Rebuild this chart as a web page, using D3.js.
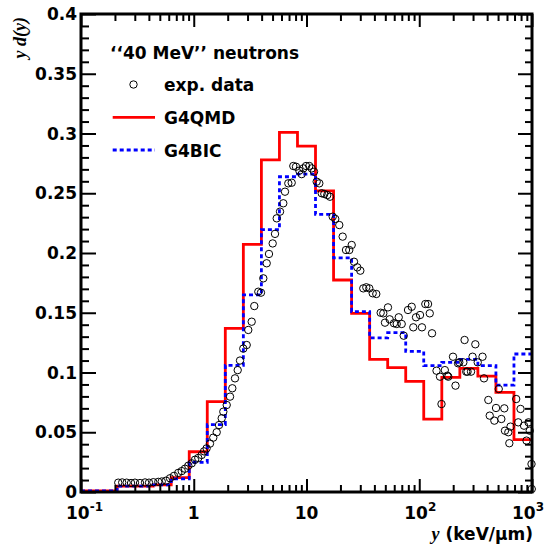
<!DOCTYPE html>
<html>
<head>
<meta charset="utf-8">
<script src="https://cdn.jsdelivr.net/npm/d3@7"></script>
<style>
  html, body { margin: 0; padding: 0; background: #fff; }
  svg { display: block; }
  .lbl { font-family: "DejaVu Sans", sans-serif; font-weight: bold; fill: #000; }
</style>
</head>
<body>
<svg id="chart" width="546" height="548"></svg>
<script>
// Histogram bin edges in y (keV/um), 25 logarithmic bins from 0.1 to 1000
const binEdges = [0.1, 0.1445, 0.2089, 0.302, 0.4365, 0.631, 0.912, 1.318, 1.905, 2.754,
  3.981, 5.754, 8.318, 12.02, 17.38, 25.12, 36.31, 52.48, 75.86, 109.6,
  158.5, 229.1, 331.1, 478.6, 691.8, 1000];

// G4QMD y d(y) per bin
const g4qmd = [0.001, 0.001, 0.005, 0.005, 0.006, 0.012, 0.0337, 0.0756, 0.137, 0.2073,
  0.278, 0.301, 0.2895, 0.252, 0.1774, 0.1495, 0.111, 0.104, 0.0926, 0.061,
  0.096, 0.1035, 0.097, 0.0834, 0.0438];

// G4BIC y d(y) per bin
const g4bic = [0.001, 0.001, 0.005, 0.005, 0.006, 0.011, 0.0248, 0.0563, 0.106, 0.165,
  0.2195, 0.2638, 0.266, 0.2324, 0.196, 0.151, 0.129, 0.1333, 0.1177, 0.1057,
  0.1085, 0.111, 0.1057, 0.0895, 0.1155];

// Measured lineal energy y (keV/um)
const expY = [0.214, 0.232, 0.254, 0.278, 0.301, 0.334, 0.370, 0.401, 0.438, 0.485,
  0.520, 0.568, 0.616, 0.668, 0.729, 0.782, 0.836, 0.895, 0.959, 1.026,
  1.097, 1.175, 1.233, 1.300, 1.393, 1.490, 1.598, 1.675, 1.770, 1.829,
  1.960, 2.098, 2.198, 2.322, 2.454, 2.572, 2.750, 2.949, 3.046, 3.265,
  3.443, 3.738, 3.946, 4.138, 4.436, 4.648, 5.013, 5.256, 5.443, 5.823,
  6.226, 6.445, 6.897, 7.39, 7.64, 8.07, 8.64, 9.06, 9.37, 9.91,
  10.59, 11.12, 11.66, 12.31, 12.99, 13.64, 14.39, 15.29, 16.15, 17.07,
  17.99, 19.53, 20.93, 22.40, 23.96, 25.17, 26.39, 28.23, 30.01, 31.90,
  33.91, 36.05, 38.64, 41.59, 45.50, 47.98, 49.67, 52.79, 54.65, 59.70,
  63.09, 65.77, 69.87, 72.82, 79.47, 85.72, 88.54, 93.6, 101.6, 105.7,
  113.2, 119.7, 123.9, 129.8, 142.3, 152.8, 157.5, 168.6, 177.4, 181.0,
  199.2, 209.7, 220.8, 226.5, 246.1, 252.3, 261.0, 268.1, 287.9, 297.0,
  314.3, 330.1, 364.1, 375.2, 409.9, 421.8, 463.5, 479.8, 507.0, 534.6,
  568.0, 575.9, 616.5, 629.4, 644.6, 724.4, 755.1, 791.3, 849.5, 894.2,
  931.6, 954.9, 990, 995];

// Measured y d(y)
const expYdy = [0.0078, 0.0080, 0.0078, 0.0075, 0.0078, 0.0075, 0.0080, 0.0078, 0.0082, 0.0085,
  0.0088, 0.0095, 0.0115, 0.0135, 0.0160, 0.0175, 0.0195, 0.0220, 0.0240, 0.0270,
  0.0285, 0.0310, 0.0340, 0.0365, 0.0405, 0.0455, 0.0500, 0.0560, 0.0617, 0.0672,
  0.0728, 0.0798, 0.0868, 0.0951, 0.1020, 0.1100, 0.1200, 0.1230, 0.1356, 0.1425,
  0.1556, 0.1676, 0.1668, 0.1788, 0.1914, 0.1992, 0.2080, 0.2160, 0.2290, 0.2346,
  0.2416, 0.2513, 0.2583, 0.2588, 0.2728, 0.2722, 0.2689, 0.2660, 0.2708, 0.2728,
  0.2728, 0.2708, 0.2680, 0.2597, 0.2583, 0.2500, 0.2494, 0.2485, 0.2471, 0.2304,
  0.2285, 0.2234, 0.2137, 0.2025, 0.2025, 0.2067, 0.1927, 0.1880, 0.1852, 0.1704,
  0.1713, 0.1704, 0.1663, 0.1657, 0.1500, 0.1495, 0.1417, 0.1545, 0.1445, 0.1412,
  0.1406, 0.1462, 0.1406, 0.1308, 0.1523, 0.1550, 0.1378, 0.1462, 0.1481, 0.1378,
  0.1573, 0.1573, 0.1495, 0.1328, 0.1015, 0.0965, 0.0736, 0.1020, 0.0973, 0.0965,
  0.1132, 0.0890, 0.1077, 0.1085, 0.1085, 0.1272, 0.1007, 0.1007, 0.1007, 0.1132,
  0.1236, 0.1085, 0.1132, 0.0951, 0.0770, 0.0639, 0.0597, 0.0703, 0.0862, 0.0611,
  0.0700, 0.0513, 0.0500, 0.0408, 0.0547, 0.0778, 0.0583, 0.0695, 0.0555, 0.0430,
  0.0583, 0.0513, 0.0234, 0.0025];

// Axis ticks
const yMajorTicks = [0, 0.05, 0.1, 0.15, 0.2, 0.25, 0.3, 0.35, 0.4];
const yTickLabels = ["0", "0.05", "0.1", "0.15", "0.2", "0.25", "0.3", "0.35", "0.4"];
const xMajorTicks = [0.1, 1, 10, 100, 1000];
const xTickBase = ["10", "1", "10", "10", "10"];
const xTickExp = ["-1", "", "", "2", "3"];

const legendTitle = "\u2018\u201840 MeV\u2019\u2019 neutrons";
const seriesNames = ["exp. data", "G4QMD", "G4BIC"];

const W = 546;
const svg = d3.select("#chart");
const L = 81, R = 532, T = 14, B = 492;

const x = d3.scaleLog().domain([0.1, 1000]).range([L, R]);
const y = d3.scaleLinear().domain([0, 0.4]).range([B, T]);

// minor tick values
const yMinor = d3.range(0, 41).map(i => i / 100).filter(v => Math.abs(v * 20 - Math.round(v * 20)) > 1e-6);
const xMinor = [];
[0.1, 1, 10, 100].forEach(d => { for (let k = 2; k <= 9; k++) xMinor.push(d * k); });

// step path for a histogram
function stepPath(vals) {
  const p = d3.path();
  vals.forEach((v, i) => {
    const x0 = x(binEdges[i]), x1 = x(binEdges[i + 1]), yy = y(v);
    if (i === 0) p.moveTo(x0, yy); else p.lineTo(x0, yy);
    p.lineTo(x1, yy);
  });
  return p.toString();
}

const plot = svg.append("g");
plot.append("path").attr("d", stepPath(g4qmd))
  .attr("fill", "none").attr("stroke", "#ff0000").attr("stroke-width", 2.8);
plot.append("path").attr("d", stepPath(g4bic))
  .attr("fill", "none").attr("stroke", "#0000ff").attr("stroke-width", 2.8)
  .attr("stroke-dasharray", "4,3");

plot.selectAll("circle.exp").data(expY.map((v, i) => [v, expYdy[i]]))
  .join("circle").attr("class", "exp")
  .attr("cx", d => x(d[0])).attr("cy", d => y(d[1])).attr("r", 3.7)
  .attr("fill", "none").attr("stroke", "#000").attr("stroke-width", 1);

// Axes: ticks drawn inward on all four sides
function styleAxis(g) {
  g.select(".domain").remove();
  g.selectAll(".tick line").attr("stroke", "#000").attr("stroke-width", 2);
}
svg.append("g").attr("transform", `translate(${L},0)`)
  .call(d3.axisLeft(y).tickValues(yMajorTicks).tickSizeInner(-15).tickSizeOuter(0).tickFormat(""))
  .call(styleAxis);
svg.append("g").attr("transform", `translate(${L},0)`)
  .call(d3.axisLeft(y).tickValues(yMinor).tickSizeInner(-8).tickSizeOuter(0).tickFormat(""))
  .call(styleAxis);
svg.append("g").attr("transform", `translate(${R},0)`)
  .call(d3.axisRight(y).tickValues(yMajorTicks).tickSizeInner(-14).tickSizeOuter(0).tickFormat(""))
  .call(styleAxis);
svg.append("g").attr("transform", `translate(${R},0)`)
  .call(d3.axisRight(y).tickValues(yMinor).tickSizeInner(-7).tickSizeOuter(0).tickFormat(""))
  .call(styleAxis);
svg.append("g").attr("transform", `translate(0,${B})`)
  .call(d3.axisBottom(x).tickValues(xMajorTicks).tickSizeInner(-13).tickSizeOuter(0).tickFormat(""))
  .call(styleAxis);
svg.append("g").attr("transform", `translate(0,${B})`)
  .call(d3.axisBottom(x).tickValues(xMinor).tickSizeInner(-7).tickSizeOuter(0).tickFormat(""))
  .call(styleAxis);
svg.append("g").attr("transform", `translate(0,${T})`)
  .call(d3.axisTop(x).tickValues(xMajorTicks).tickSizeInner(-13).tickSizeOuter(0).tickFormat(""))
  .call(styleAxis);
svg.append("g").attr("transform", `translate(0,${T})`)
  .call(d3.axisTop(x).tickValues(xMinor).tickSizeInner(-7).tickSizeOuter(0).tickFormat(""))
  .call(styleAxis);

// frame
svg.append("rect").attr("x", L).attr("y", T).attr("width", R - L).attr("height", B - T)
  .attr("fill", "none").attr("stroke", "#000").attr("stroke-width", 3);

// y tick labels
svg.append("g").selectAll("text").data(yMajorTicks).join("text")
  .attr("class", "lbl").attr("font-size", 17)
  .attr("x", L - 4).attr("y", d => y(d)).attr("dy", "0.36em")
  .attr("text-anchor", "end").text((d, i) => yTickLabels[i]);

// x tick labels with superscript exponents
xMajorTicks.forEach((v, i) => {
  const t = svg.append("text").attr("class", "lbl").attr("font-size", 17).attr("y", 519);
  if (xTickExp[i]) {
    t.attr("text-anchor", "start");
    t.append("tspan").text(xTickBase[i]);
    t.append("tspan").attr("font-size", 12).attr("dy", -8).text(xTickExp[i]);
    // keep the label inside the page at the right edge
    const w = t.node().getComputedTextLength();
    t.attr("x", Math.min(x(v) - 15, W - 2 - w));
  } else {
    t.attr("x", x(v)).attr("text-anchor", "middle").text(xTickBase[i]);
  }
});

// axis titles
const xt = svg.append("text").attr("x", 533).attr("y", 540).attr("text-anchor", "end")
  .attr("class", "lbl").attr("font-size", 17);
xt.append("tspan").attr("font-family", "Liberation Serif, serif").attr("font-style", "italic")
  .attr("font-weight", "bold").attr("font-size", 18).text("y");
xt.append("tspan").text(" (keV/\u03bcm)");

svg.append("text").attr("transform", "translate(26,17) rotate(-90)")
  .attr("text-anchor", "end").attr("font-family", "Liberation Serif, serif")
  .attr("font-style", "italic").attr("font-weight", "bold").attr("font-size", 18)
  .text("y d(y)");

// legend
const lg = svg.append("g");
lg.append("text").attr("class", "lbl").attr("font-size", 17).attr("x", 110).attr("y", 59).text(legendTitle);
lg.append("circle").attr("cx", 133.5).attr("cy", 84.5).attr("r", 3.7)
  .attr("fill", "none").attr("stroke", "#000").attr("stroke-width", 1);
lg.append("text").attr("class", "lbl").attr("font-size", 17).attr("x", 164).attr("y", 90.7).text(seriesNames[0]);
lg.append("line").attr("x1", 112.7).attr("x2", 155).attr("y1", 117.3).attr("y2", 117.3)
  .attr("stroke", "#ff0000").attr("stroke-width", 2.8);
lg.append("text").attr("class", "lbl").attr("font-size", 17).attr("x", 164).attr("y", 124).text(seriesNames[1]);
lg.append("line").attr("x1", 112.7).attr("x2", 155).attr("y1", 150).attr("y2", 150)
  .attr("stroke", "#0000ff").attr("stroke-width", 2.8).attr("stroke-dasharray", "4,3");
lg.append("text").attr("class", "lbl").attr("font-size", 17).attr("x", 164).attr("y", 156.7).text(seriesNames[2]);
</script>
</body>
</html>
